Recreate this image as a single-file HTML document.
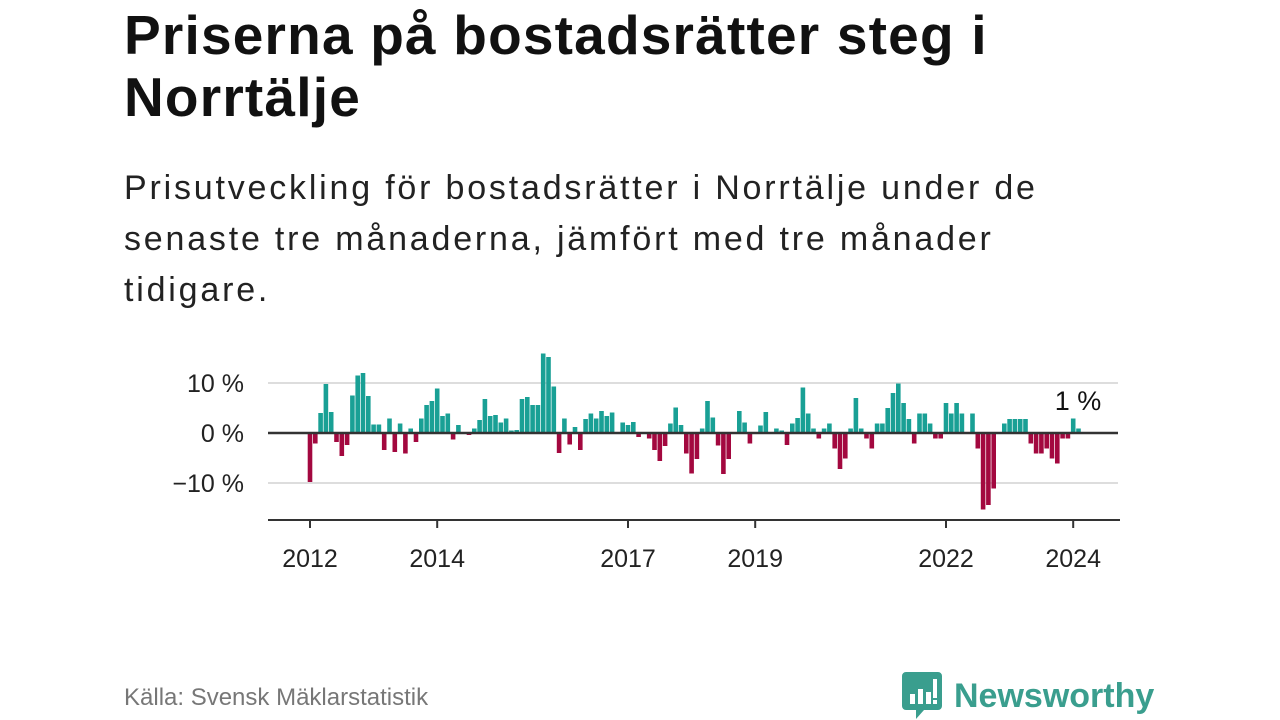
<!DOCTYPE html>
<html><head><meta charset="utf-8">
<style>
body{margin:0;width:1280px;height:720px;background:#fff;font-family:"Liberation Sans","DejaVu Sans",sans-serif;overflow:hidden;position:relative;color:#111}
#title{position:absolute;left:124px;top:4px;font-size:55px;font-weight:bold;line-height:62px;margin:0;color:#111;letter-spacing:1.2px}
#sub{position:absolute;left:124px;top:163px;font-size:34px;line-height:51px;margin:0;color:#222;width:1100px;letter-spacing:2.8px;white-space:nowrap}
#src{position:absolute;left:124px;top:684px;font-size:24px;color:#777}
#logo{position:absolute;left:902px;top:672px;display:flex;align-items:center}
#logo span{font-size:34px;font-weight:bold;color:#3a9e8e;margin-left:12px}
svg text{font-family:"Liberation Sans","DejaVu Sans",sans-serif}
</style></head><body>
<h1 id="title">Priserna på bostadsrätter steg i<br>Norrtälje</h1>
<p id="sub">Prisutveckling för bostadsrätter i Norrtälje under de<br>senaste tre månaderna, jämfört med tre månader<br>tidigare.</p>
<svg id="chart" width="1280" height="720" style="position:absolute;left:0;top:0"></svg>
<div id="src">Källa: Svensk Mäklarstatistik</div>
<div id="logo">
<svg width="40" height="48" viewBox="0 0 40 48"><path d="M4 0h32a4 4 0 0 1 4 4v30a4 4 0 0 1-4 4H22l-8 9v-9H4a4 4 0 0 1-4-4V4a4 4 0 0 1 4-4z" fill="#3a9e8e"/><rect x="8" y="22" width="5" height="10" fill="#fff"/><rect x="16" y="17" width="5" height="15" fill="#fff"/><rect x="24" y="20" width="5" height="12" fill="#fff"/><rect x="31" y="7" width="4" height="19" fill="#fff"/><rect x="31" y="28" width="4" height="4" fill="#fff"/></svg>
<span>Newsworthy</span></div>
<script>
const values=[-9.8,-2.1,4.0,9.8,4.2,-1.8,-4.6,-2.4,7.5,11.5,12,7.4,1.7,1.7,-3.4,2.9,-3.8,1.9,-4.1,0.9,-1.8,2.9,5.6,6.4,8.9,3.4,3.9,-1.3,1.6,0,-0.4,0.9,2.6,6.8,3.4,3.6,2.1,2.9,0.5,0.6,6.8,7.2,5.6,5.6,15.9,15.2,9.3,-4.0,2.9,-2.3,
1.2,-3.4,2.8,3.9,2.9,4.4,3.4,4.1,0,2.1,1.6,2.2,-0.8,0,-1.1,-3.4,-5.6,-2.6,1.9,5.1,1.6,-4.1,-8.1,-5.2,0.9,6.4,3.1,-2.5,-8.2,-5.2,0,4.4,2.1,-2.1,0,1.5,4.2,0,0.9,0.5,-2.4,1.9,3.0,9.1,3.9,0.9,-1.1,0.9,1.9,-3.1,-7.2,
-5.1,0.9,7.0,0.9,-1.1,-3.1,1.9,1.9,5.0,8.0,9.9,6.0,2.8,-2.1,3.9,3.9,1.9,-1.1,-1.1,6.0,3.9,6.0,3.9,0,3.9,-3.1,-15.3,-14.4,-11.1,0,1.9,2.8,2.8,2.8,2.8,-2.1,-4.1,-4.1,-3.1,-5.1,-6.1,-1.1,-1.1,2.9,0.9];
const startYear=2012;
const yTicks=[10,0,-10];
const yTickLabels=["10 %","0 %","−10 %"];
const xTickYears=[2012,2014,2017,2019,2022,2024];
const svg=document.getElementById('chart');
const NS='http://www.w3.org/2000/svg';
const x=m=>310+m*(63.6/12);
const y=v=>433-v*5.0;
function mk(t,a){const e=document.createElementNS(NS,t);for(const k in a)e.setAttribute(k,a[k]);svg.appendChild(e);return e;}
yTicks.forEach((t,i)=>{
 if(t!==0){const g=mk('line',{x1:268,x2:1118,y1:y(t),y2:y(t),stroke:'#ddd','stroke-width':2});
 
 }
 const l=mk('text',{x:244,y:y(t)+9,'text-anchor':'end','font-size':25,fill:'#222'});
 l.textContent=yTickLabels[i];
 
 
});
values.forEach((v,i)=>{
 const b=mk('rect',{x:x(i)-2.3,width:4.6,y:Math.min(y(v),y(0)),height:Math.abs(y(v)-y(0)),fill:v>=0?'#19a095':'#a3083f'});
 
 
});
const z=mk('line',{x1:268,x2:1118,y1:y(0),y2:y(0),stroke:'#333','stroke-width':2.5});


const ax=mk('line',{x1:268,x2:1120,y1:520,y2:520,stroke:'#333','stroke-width':2});


xTickYears.forEach(yr=>{
 const px=x((yr-startYear)*12);
 const t=mk('line',{x1:px,x2:px,y1:520,y2:528,stroke:'#333','stroke-width':2});
 
 
 const l=mk('text',{x:px,y:567,'text-anchor':'middle','font-size':25,fill:'#222'});
 l.textContent=yr;
 
 
});
const a=mk('text',{x:1078,y:410,'text-anchor':'middle','font-size':27,fill:'#111'});
a.textContent=Math.round(values[values.length-1])+' %';


</script>
</body></html>
